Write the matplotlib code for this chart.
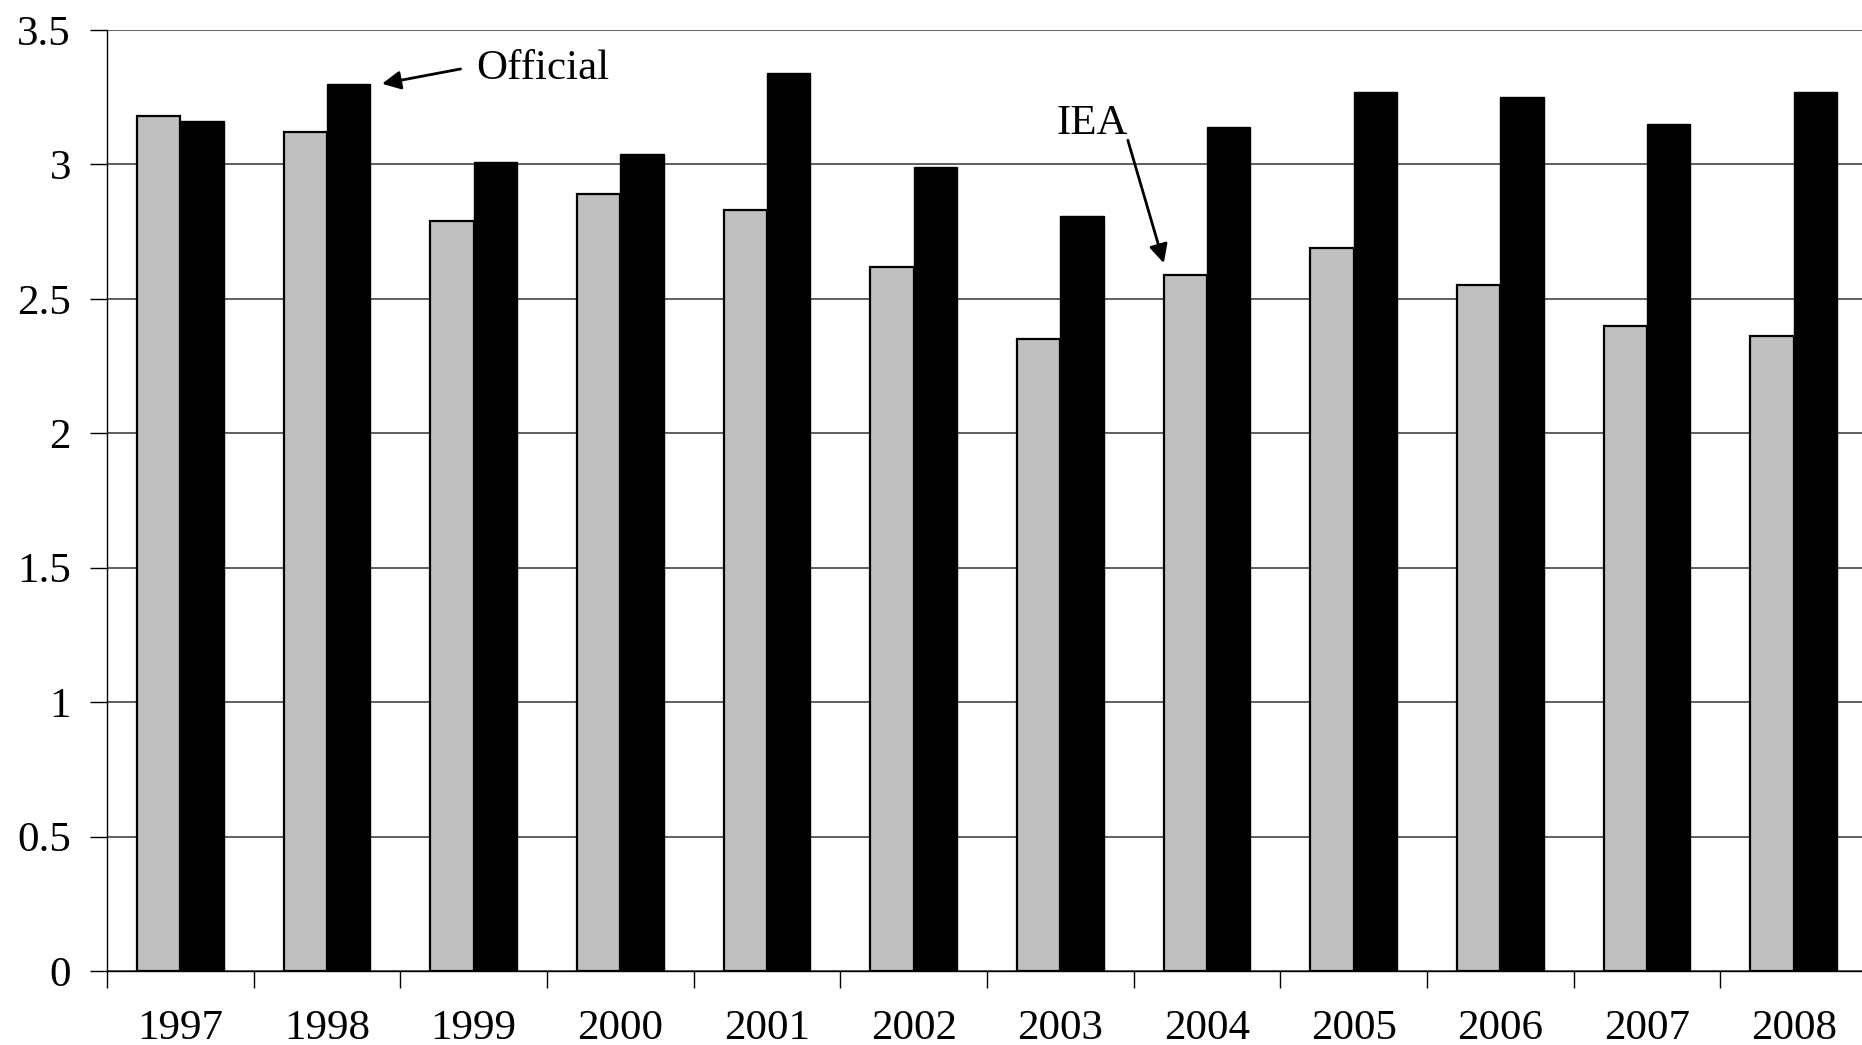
#
# Grouped bar chart: IEA vs Official values, 1997-2008
#

import numpy as np
from matplotlib import pyplot as plt

# Data
years = ["1997", "1998", "1999", "2000", "2001", "2002",
         "2003", "2004", "2005", "2006", "2007", "2008"]
iea = [3.18, 3.12, 2.79, 2.89, 2.83, 2.62, 2.35, 2.59, 2.69, 2.55, 2.40, 2.36]
official = [3.16, 3.30, 3.01, 3.04, 3.34, 2.99, 2.81, 3.14, 3.27, 3.25, 3.15, 3.27]
y_ticks = [0, 0.5, 1, 1.5, 2, 2.5, 3, 3.5]
y_tick_labels = ["0", "0.5", "1", "1.5", "2", "2.5", "3", "3.5"]

plt.rcParams['font.family'] = ['Liberation Serif', 'DejaVu Serif']

fig = plt.figure(figsize=(18.62, 10.45), dpi=100)
ax = fig.add_axes([0.0575, 0.0708, 0.9452, 0.9005])

x = np.arange(len(years))
w = 0.295

# Bars
ax.bar(x - w / 2, iea, width=w, color="#C0C0C0", edgecolor="black", linewidth=1.6, zorder=3)
ax.bar(x + w / 2, official, width=w, color="black", edgecolor="black", linewidth=1.0, zorder=3)

# Axes and grid
ax.set_xlim(-0.5, len(years) - 0.5)
ax.set_ylim(0, 3.5)
ax.set_yticks(y_ticks)
ax.set_yticklabels(y_tick_labels)
ax.yaxis.grid(True, color="#333333", linewidth=1.1, zorder=0)
ax.set_axisbelow(True)

ax.set_xticks(np.arange(len(years) + 1) - 0.5)
ax.set_xticklabels([])
ax.set_xticks(x, minor=True)
ax.set_xticklabels(years, minor=True)
ax.tick_params(axis="x", which="minor", length=0, pad=28, labelsize=31)
ax.tick_params(axis="x", which="major", length=12, width=1.0, direction="out")
ax.tick_params(axis="y", length=12, width=1.0, direction="out", pad=14, labelsize=31)

for side in ["top", "right"]:
	ax.spines[side].set_visible(False)
ax.spines["left"].set_linewidth(1.0)
ax.spines["bottom"].set_linewidth(1.0)

# Annotations
arrow = dict(arrowstyle="-|>", color="black", lw=2.0, mutation_scale=28, shrinkA=0, shrinkB=0)
ax.text(2.02, 3.355, "Official", fontsize=31, va="center", ha="left")
ax.annotate("", xy=(1.375, 3.30), xytext=(1.91, 3.355), arrowprops=arrow)
ax.text(6.22, 3.15, "IEA", fontsize=31, va="center", ha="center")
ax.annotate("", xy=(6.705, 2.633), xytext=(6.46, 3.09), arrowprops=arrow)

plt.savefig("out.png", dpi=100)
